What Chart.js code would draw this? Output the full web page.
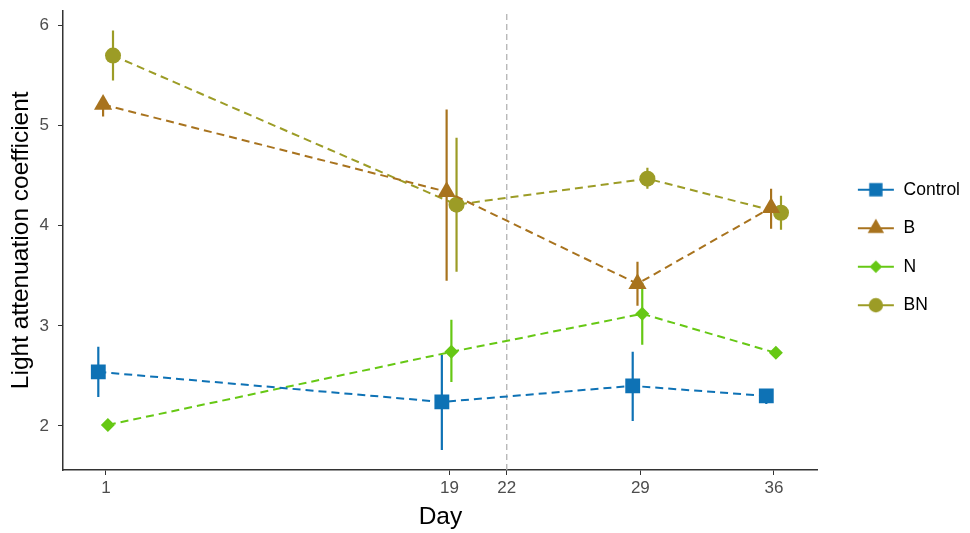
<!DOCTYPE html>
<html>
<head>
<meta charset="utf-8">
<script src="https://cdn.jsdelivr.net/npm/chart.js@4.4.1/dist/chart.umd.min.js"></script>
<style>
  html, body { margin: 0; padding: 0; background: #fff; }
  #wrap { width: 970px; height: 533px; }
</style>
</head>
<body>
<div id="wrap"><canvas id="lightChart"></canvas></div>
<script>
// sampling days and x tick labels
const days = [1, 19, 29, 36];
const dayTicks = [1, 19, 22, 29, 36];
const cutDay = 22;
const yTicks = [2, 3, 4, 5, 6];

// treatment groups
const groups = ['Control', 'B', 'N', 'BN'];
const dodge = [-0.4, -0.15, 0.1, 0.37];

// mean light attenuation coefficient and error bar ends, per group
const controlMean = [2.54, 2.24, 2.40, 2.30];
const controlLow  = [2.29, 1.76, 2.05, 2.22];
const controlHigh = [2.79, 2.71, 2.74, 2.37];

const bMean = [5.21, 4.34, 3.42, 4.18];
const bLow  = [5.09, 3.45, 3.20, 3.97];
const bHigh = [5.27, 5.16, 3.64, 4.37];

const nMean = [2.01, 2.74, 3.12, 2.73];
const nLow  = [1.98, 2.44, 2.81, 2.70];
const nHigh = [2.04, 3.06, 3.43, 2.76];

const bnMean = [5.70, 4.21, 4.47, 4.13];
const bnLow  = [5.45, 3.54, 4.37, 3.96];
const bnHigh = [5.95, 4.88, 4.58, 4.30];

const means = [controlMean, bMean, nMean, bnMean];
const lows = [controlLow, bLow, nLow, bnLow];
const highs = [controlHigh, bHigh, nHigh, bnHigh];

const colors = ['#0E72B5', '#A8731E', '#66C814', '#9C9C26'];
const shapes = ['rect', 'triangle', 'rectRot', 'circle'];
const radii = [10.5, 10.5, 7, 8];

const xMin = -1.25, xMax = 38.3;
const yMin = 1.56, yMax = 6.15;

// legend key: short line with marker on it, like ggplot
function legendKey(i) {
  const c = document.createElement('canvas');
  c.width = 38; c.height = 22;
  const g = c.getContext('2d');
  g.strokeStyle = colors[i];
  g.fillStyle = colors[i];
  g.lineWidth = 2;
  g.beginPath();
  g.moveTo(1, 11); g.lineTo(37, 11);
  g.stroke();
  Chart.helpers.drawPoint(g, { pointStyle: shapes[i], radius: radii[i] * 0.9, rotation: 0, borderWidth: 0 }, 19, 11);
  return c;
}
const keys = groups.map((g, i) => legendKey(i));

let datasets = [];
groups.forEach((name, i) => {
  datasets.push({
    label: name,
    data: days.map((d, j) => ({ x: d + dodge[i], y: means[i][j] })),
    borderColor: colors[i],
    backgroundColor: colors[i],
    borderWidth: 2,
    borderDash: [8, 5],
    pointStyle: shapes[i],
    pointRadius: radii[i],
    pointBorderWidth: 0,
    pointHoverRadius: radii[i],
    order: 1
  });
});
groups.forEach((name, i) => {
  let pts = [];
  days.forEach((d, j) => {
    pts.push({ x: d + dodge[i], y: lows[i][j] });
    pts.push({ x: d + dodge[i], y: highs[i][j] });
    pts.push({ x: d + dodge[i], y: null });
  });
  datasets.push({
    label: name + ' err',
    data: pts,
    borderColor: colors[i],
    borderWidth: 2.2,
    pointRadius: 0,
    spanGaps: false,
    order: 2
  });
});
datasets.push({
  label: 'cut',
  data: [{ x: cutDay, y: yMin }, { x: cutDay, y: yMax }],
  borderColor: '#b3b3b3',
  borderWidth: 1.3,
  borderDash: [6, 4],
  pointRadius: 0,
  order: 3
});

const fontFam = '"Liberation Sans", Arial, Helvetica, sans-serif';

// move the legend up a little so it sits beside the middle of the panel
const legendNudge = {
  id: 'legendNudge',
  afterLayout(chart) {
    const lg = chart.legend;
    if (!lg) return;
    lg.top -= 24;
    lg.bottom -= 24;
  }
};

new Chart(document.getElementById('lightChart').getContext('2d'), {
  type: 'line',
  data: { datasets: datasets },
  plugins: [legendNudge],
  options: {
    responsive: true,
    maintainAspectRatio: false,
    animation: false,
    layout: { padding: { top: 10, right: 0, bottom: 0, left: 0 } },
    plugins: {
      tooltip: { enabled: false },
      legend: {
        position: 'right',
        labels: {
          usePointStyle: true,
          pointStyleWidth: 38,
          boxHeight: 15,
          padding: 21,
          color: '#1a1a1a',
          font: { family: fontFam, size: 17.5 },
          generateLabels: (chart) => {
            return groups.map((g, i) => ({
              text: g,
              datasetIndex: i,
              pointStyle: keys[i],
              fillStyle: colors[i],
              strokeStyle: colors[i],
              lineWidth: 0,
              hidden: false
            }));
          }
        }
      }
    },
    scales: {
      x: {
        type: 'linear',
        min: xMin,
        max: xMax,
        afterBuildTicks: (axis) => { axis.ticks = dayTicks.map(v => ({ value: v })); },
        afterFit: (axis) => { axis.height = 63; axis.paddingLeft = 0; axis.paddingRight = 0; },
        ticks: { color: '#4d4d4d', font: { family: fontFam, size: 17 }, padding: 3 },
        grid: { drawOnChartArea: false, drawTicks: true, tickLength: 5, color: '#333' },
        border: { color: '#333', width: 1.5 },
        title: { display: true, text: 'Day', color: '#000', font: { family: fontFam, size: 24.5 }, padding: { top: 0, bottom: 1 } }
      },
      y: {
        type: 'linear',
        min: yMin,
        max: yMax,
        afterBuildTicks: (axis) => { axis.ticks = yTicks.map(v => ({ value: v })); },
        afterFit: (axis) => { axis.width = 63; axis.paddingTop = 0; axis.paddingBottom = 0; },
        ticks: { color: '#4d4d4d', font: { family: fontFam, size: 17 }, padding: 9 },
        grid: { drawOnChartArea: false, drawTicks: true, tickLength: 5, color: '#333' },
        border: { color: '#333', width: 1.5 },
        title: { display: true, text: 'Light attenuation coefficient', color: '#000', font: { family: fontFam, size: 24.5 }, padding: { top: 7, bottom: 0 } }
      },
      // empty spacer between the panel and the legend
      gap: {
        type: 'linear',
        position: 'right',
        display: true,
        grid: { display: false },
        border: { display: false },
        ticks: { display: false },
        afterFit: (axis) => { axis.width = 18; axis.paddingTop = 0; axis.paddingBottom = 0; }
      }
    }
  }
});
</script>
</body>
</html>
